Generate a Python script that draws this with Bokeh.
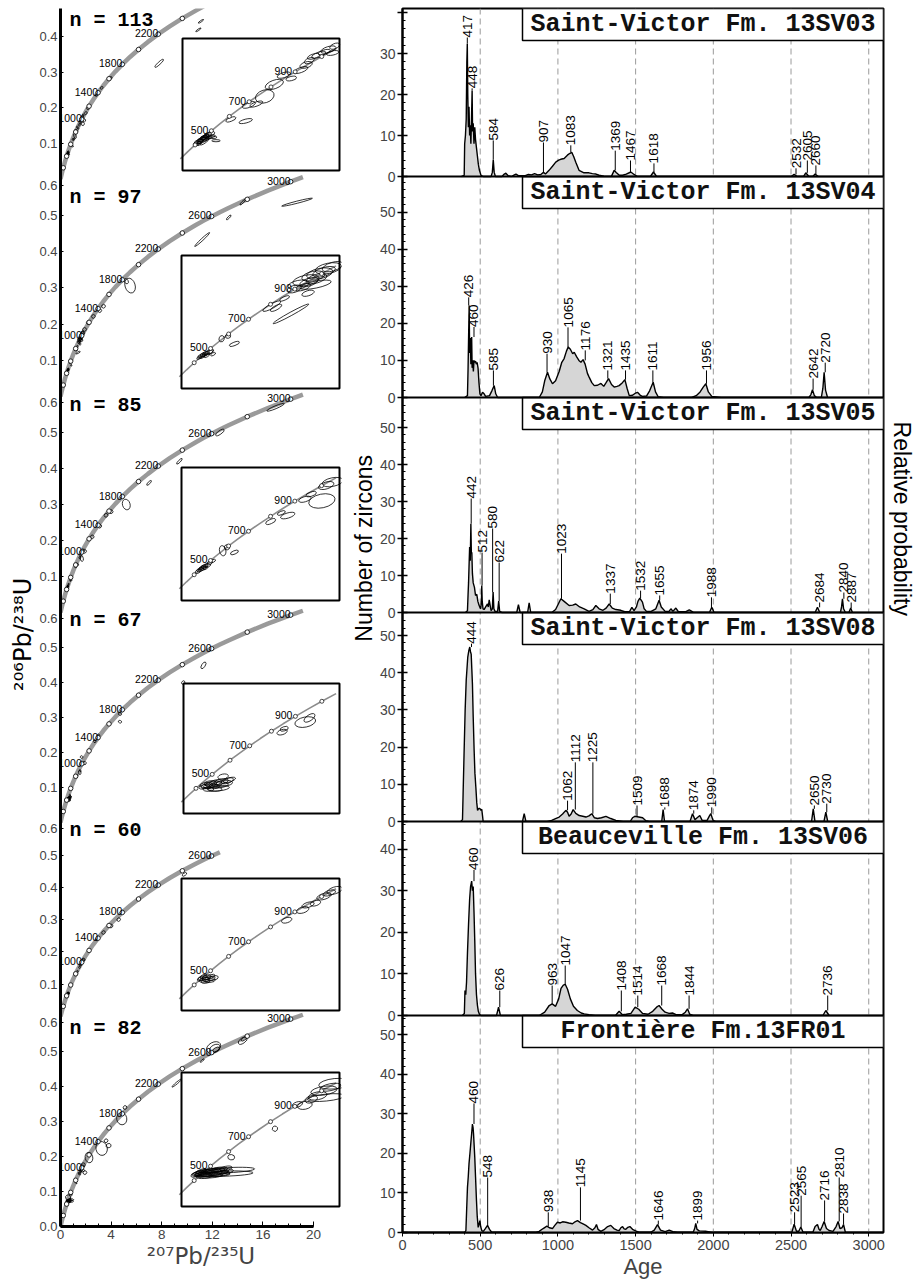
import math
from bokeh.plotting import figure
from bokeh.layouts import row
from bokeh.models import Range1d, FixedTicker, Span
from bokeh.embed import file_html
from bokeh.resources import INLINE
from bokeh.core.properties import value

SANS = "Liberation Sans"
MONO = "Liberation Mono"

# ---------------------------------------------------------------- concordia reference table
conc_age = [0,100,200,300,400,500,600,700,800,900,1000,1100,1200,1300,1400,1500,1600,1700,1800,1900,
            2000,2100,2200,2300,2400,2500,2550,2600,2650,2700,2800,2900,3000,3050]
conc_x = [0,0.10350,0.21770,0.34374,0.48278,0.63628,0.80563,0.99251,1.19873,1.42630,
          1.67741,1.95452,2.26030,2.59774,2.97010,3.38099,3.83441,4.33477,4.88690,5.49618,
          6.16853,6.91046,7.72917,8.63262,9.62958,10.72973,11.32177,11.94370,12.59704,13.28337,
          14.76165,16.39296,18.19309,19.16186]
conc_y = [0,0.015633,0.031511,0.047637,0.064016,0.080650,0.097544,0.114702,0.132128,0.149826,
          0.167806,0.186061,0.204603,0.22343,0.24256,0.26199,0.28172,0.30175,0.32211,0.34277,
          0.36377,0.38509,0.40674,0.42873,0.45107,0.47375,0.48523,0.49679,0.50845,0.52019,
          0.54396,0.56810,0.59261,0.60501]
conc_labels = [1000, 1400, 1800, 2200, 2600, 3000]

ins_age = [300,350,400,450,500,550,600,650,700,750,800,850,900,950,1000,1050]
ins_cx = [0.34374,0.41156,0.48278,0.55766,0.63628,0.71887,0.80563,0.89677,0.99251,1.09308,
          1.19873,1.30971,1.42630,1.54876,1.67741,1.81255]
ins_cy = [0.047637,0.05580,0.064016,0.07230,0.080650,0.08906,0.097544,0.10609,0.114702,0.12338,
          0.132128,0.14094,0.149826,0.15878,0.167806,0.17690]
ins_labels = [500, 700, 900]

# ---------------------------------------------------------------- samples
n_text = ["n = 113", "n = 97", "n = 85", "n = 67", "n = 60", "n = 82"]
titles = ["Saint-Victor Fm. 13SV03", "Saint-Victor Fm. 13SV04", "Saint-Victor Fm. 13SV05",
          "Saint-Victor Fm. 13SV08", "Beauceville Fm. 13SV06", "Frontière Fm.13FR01"]
conc_end = [2550, 3050, 3050, 3050, 2650, 3050]

# ---- probability density curves (age Ma, height)
sv03_age = [380,397,400,405,410,414,417,420,424,428,432,436,440,444,448,451,455,460,465,470,
            476,482,488,495,505,520,570,578,584,590,598,640,655,665,680,700,720,730,745,790,
            810,830,850,870,890,907,920,943,965,986,1005,1018,1040,1061,1075,1089,1102,1115,1136,1168,
            1200,1222,1245,1265,1296,1320,1345,1362,1375,1395,1416,1440,1469,1490,1512,1595,1615,1635,2500,2520,
            2540,2580,2595,2615,2640,2655,2675]
sv03_pdp = [0,0.3,8,10,14,28,32.4,20,12,17,10,12.5,8,14,21,11,13,8,12,9,
            7,5,3,1.5,0.3,0,0,1,4.1,1,0,0,0.6,0.8,0.2,0,0.4,0.6,0.2,0.2,
            0.5,0.4,0.7,0.4,0.5,1.0,0.6,1.5,2.5,3.5,4.0,4.2,4.4,5.2,5.6,5.9,4.8,3.5,1.5,0.9,
            0.9,0.7,0.6,0.3,0.1,0,0.1,1.5,1.0,0.3,0.3,0.6,1.1,0.5,0,0,1.1,0,0,0.5,
            0,0,0.9,0,0,0.6,0]
sv04_age = [400,418,422,426,429,432,436,440,445,448,452,456,460,465,470,475,480,486,492,498,
            505,515,525,535,560,575,590,600,612,880,900,915,933,948,965,985,1008,1025,1040,1055,
            1066,1080,1095,1105,1120,1135,1148,1162,1175,1190,1201,1218,1234,1255,1277,1295,1310,1326,1345,1362,
            1380,1394,1415,1431,1445,1459,1480,1500,1512,1530,1544,1570,1590,1613,1628,1645,1680,1860,1890,1915,
            1935,1952,1968,1990,2050,2615,2628,2638,2650,2665,2695,2705,2713,2722,2735]
sv04_pdp = [0,0.5,8,18,24.8,12,16,9,16.3,8,10,7,10,9.5,9.8,9,9.5,8,4,1,
            0.5,1.4,1.0,0.3,0.5,1.8,3.2,1.0,0,0,1.5,4.5,6.8,5.0,3.7,4.5,7.0,9.5,10.5,12.5,
            13.6,13.0,11.8,12.2,11.0,10.0,9.5,10.2,9.0,6.5,5.5,4.0,3.2,3.3,3.8,3.0,4.0,5.1,3.5,2.8,
            3.0,3.2,4.0,4.8,2.5,0.5,0.6,1.2,1.4,0.6,0.3,0.4,1.8,4.1,1.5,0.2,0,0,0.5,1.5,
            2.8,3.7,1.5,0.3,0,0,0.8,2.1,0.5,0,0,2.5,6.8,2.0,0]
sv05_age = [405,418,422,425,428,432,436,440,443,446,450,455,463,470,478,485,492,498,503,508,
            510,513,518,525,535,547,552,558,564,570,578,583,588,595,612,619,625,640,735,746,
            757,805,815,825,960,985,1005,1019,1040,1072,1095,1115,1140,1169,1200,1225,1244,1265,1290,1310,
            1330,1350,1373,1405,1430,1460,1476,1490,1505,1515,1527,1544,1555,1570,1600,1630,1651,1665,1690,1715,
            1727,1740,1759,1775,1820,1845,1870,1900,1975,1990,2005,2655,2670,2685,2818,2825,2831,2838,2850,2872,
            2884,2895]
sv05_pdp = [0,0.5,5,8,12.3,17.7,14,24,16,16.3,10.5,8,6.8,4.6,4.9,3,2,1.4,1.0,3,
            7.3,3,1.0,0.8,1.5,2.3,1.5,3.4,1.9,0.5,1,5.5,1.0,0.3,0.3,3.1,0.3,0,0,2.1,
            0,0,2.6,0,0,0.8,2.5,3.7,3.0,1.9,2.0,2.3,1.5,1.0,0.3,0.8,1.9,1.0,0.6,1.2,
            2.3,1.2,0.8,0.6,0.2,0.2,1.4,0.5,1.5,3.0,3.9,2.8,1.0,0.3,0.3,1.0,3.3,1.5,0.3,0.3,
            1.0,0.3,1.2,0.2,0.2,0.7,0.1,0,0,1.4,0,0,1.4,0,0,1.5,3.7,1.0,0,0,
            1.2,0]
sv08_age = [375,386,390,396,403,410,420,427,433,438,442,446,450,455,461,466,472,478,483,490,
            498,505,510,515,519,772,783,794,930,960,985,1008,1030,1051,1062,1072,1085,1098,1115,1137,
            1160,1180,1200,1218,1235,1255,1280,1309,1340,1373,1420,1465,1480,1495,1520,1545,1566,1590,1668,1677,
            1686,1850,1866,1882,1896,1913,1928,1960,1975,1984,1998,2015,2632,2643,2654,2712,2724,2736]
sv08_pdp = [0,0.5,7.5,18,29.8,38,44.2,46,46.9,45.5,45,41,37,28,19,13,9.2,5,3,3.5,
            3.5,3.0,3.3,1.5,0,0,2.1,0,0,0.3,0.8,1.2,2.0,3.0,2.5,1.4,2.0,3.2,2.2,1.6,
            1.4,1.2,1.5,2.1,1.0,0.8,1.0,1.4,0.8,0.3,0,0,1.0,1.4,1.2,1.0,0.2,0,0,3.2,
            0,0,2.1,0.5,1.0,1.6,0.3,0.3,1.5,2.1,0.3,0,0,3.4,0,0,2.5,0]
sv06_age = [385,398,402,407,412,418,425,432,438,445,450,455,460,465,470,476,482,488,495,505,
            605,618,630,880,915,944,963,985,1005,1020,1035,1047,1062,1080,1100,1125,1150,1169,1200,1240,
            1370,1394,1415,1440,1470,1497,1520,1545,1580,1610,1635,1651,1670,1690,1715,1737,1760,1800,1820,1834,
            1848,1870,2705,2724,2745]
sv06_pdp = [0,0.5,6,5,8,15,22,28,31,32.3,30,31,25,18,10,5,2.5,1,0.3,0,
            0,2.0,0,0,0.8,2.4,2.8,2.2,4.0,6.5,7.3,7.5,6.3,4.0,2.2,1.2,0.6,0.4,0.2,0,
            0,1.0,0.2,0.3,0.5,2.0,1.5,0.5,0.3,1.0,2.0,2.4,1.5,0.8,0.5,0.6,0.2,0.2,0.8,1.6,
            0.3,0,0,1.2,0]
fr01_age = [400,408,413,418,423,428,434,440,445,450,454,457,461,465,470,476,481,487,492,498,
            503,510,520,533,547,560,575,860,879,905,929,945,965,980,997,1015,1030,1051,1070,1094,
            1110,1126,1145,1165,1180,1200,1223,1238,1248,1258,1276,1300,1320,1340,1360,1380,1394,1405,1416,1426,
            1437,1450,1463,1480,1500,1523,1595,1620,1641,1660,1690,1716,1740,1770,1870,1880,1887,1895,1910,1950,
            1990,2505,2520,2535,2550,2563,2578,2640,2655,2670,2680,2688,2700,2713,2728,2745,2770,2790,2803,2815,
            2828,2838,2850]
fr01_pdp = [0,0.5,6,11.4,14,17.4,20,22.8,25,27.4,26.5,25,22,19,14,8.1,4,1.3,2.0,3.0,
            1.5,0.5,0.3,1.0,1.8,0.8,0,0,0.3,1.0,1.6,1.2,1.0,1.8,2.6,2.4,2.7,2.6,2.4,2.2,
            2.7,3.0,2.5,2.1,1.8,1.2,0.6,1.2,2.0,0.8,0.3,0.8,1.5,1.8,1.0,0.6,0.5,1.2,1.5,0.9,
            0.8,1.3,1.5,0.8,0.4,0,0,0.6,2.0,0.6,0.2,0.6,0.2,0,0,1.0,2.3,0.8,0.4,0.3,
            0,0,2.1,0.3,0.3,1.4,0,0,1.5,2.0,0.8,0.5,1.5,2.8,1.0,0.5,0.3,1.5,2.8,1.0,
            1.2,2.0,0]

# ---- labelled peaks: age, bottom of the label, top of the peak
sv03_peak = [417,448,584,907,1083,1369,1467,1618,2532,2605,2660]
sv03_lab = [33.9,21.5,8.8,8.3,7.6,6.3,3.9,3.2,2.0,3.9,2.7]
sv03_top = [32.4,21,4.1,1.0,5.9,1.5,1.1,1.1,0.5,0.9,0.6]
sv04_peak = [426,460,585,930,1065,1176,1321,1435,1611,1956,2642,2720]
sv04_lab = [27.0,19.0,7.3,11.8,18.9,12.7,7.3,7.3,7.3,7.3,5.1,9.4]
sv04_top = [24.8,16.3,3.2,6.8,13.6,10.0,5.1,4.8,4.1,3.7,2.1,6.8]
sv05_peak = [442,512,580,622,1023,1337,1532,1655,1988,2684,2840,2887]
sv05_lab = [30.8,16.2,22.7,13.5,15.9,5.1,5.9,4.6,4.1,2.7,5.4,2.7]
sv05_top = [24,7.3,5.5,3.1,3.7,2.3,3.9,3.3,1.4,1.4,3.7,1.2]
sv08_peak = [444,1062,1112,1225,1509,1688,1874,1990,2650,2730]
sv08_lab = [47.8,5.6,15.9,15.9,4.3,3.8,3.0,3.8,4.3,4.8]
sv08_top = [46.9,3.0,3.2,2.1,1.4,3.2,2.1,2.1,3.4,2.5]
sv06_peak = [460,626,963,1047,1408,1514,1668,1844,2736]
sv06_lab = [35,6,7.2,12,6,4.8,7.2,4.8,4.8]
sv06_top = [32.3,2.0,2.8,7.5,1.0,2.0,2.4,1.6,1.2]
fr01_peak = [460,548,938,1145,1646,1899,2523,2565,2716,2810,2838]
fr01_lab = [32.6,13.9,5.1,11.4,3.0,3.0,5.1,9.3,8.1,13.9,4.8]
fr01_top = [27.4,1.8,1.5,3.0,2.0,2.3,2.1,1.4,2.8,2.8,2.0]

# ---- error ellipses (207Pb/235U, 206Pb/238U, width, height, angle)
# grains plotted in the inset (and the main diagram)
sv03_ix = [0.50,0.52,0.53,0.545,0.55,0.56,0.565,0.575,0.585,0.59,0.60,0.61,0.625,0.64,0.68,0.52,0.57,
           0.82,0.96,0.99,1.06,1.14,1.23,1.32,1.39,1.48,1.53,1.56,1.60,1.65,1.70,1.74,1.78,1.80]
sv03_iy = [0.066,0.068,0.0675,0.069,0.071,0.0705,0.0725,0.073,0.0745,0.072,0.0755,0.074,0.077,0.073,0.069,0.0655,0.068,
           0.094,0.092,0.111,0.112,0.121,0.135,0.146,0.142,0.152,0.158,0.163,0.168,0.170,0.173,0.176,0.172,0.180]
sv03_iw = [0.07,0.09,0.06,0.10,0.08,0.12,0.07,0.09,0.06,0.11,0.08,0.13,0.09,0.10,0.08,0.05,0.10,
           0.10,0.13,0.13,0.13,0.18,0.18,0.13,0.10,0.14,0.12,0.10,0.12,0.14,0.12,0.15,0.12,0.10]
sv03_ih = [0.004,0.0045,0.0035,0.005,0.0045,0.0045,0.004,0.005,0.004,0.004,0.0045,0.0035,0.005,0.003,0.0025,0.0035,0.004,
           0.0045,0.0045,0.006,0.005,0.015,0.010,0.006,0.005,0.006,0.007,0.006,0.0055,0.006,0.005,0.007,0.005,0.006]
sv03_ia = [0.4,0.3,0.5,0.3,0.4,0.2,0.5,0.3,0.4,0.2,0.4,0.1,0.3,0.0,0.0,0.6,0.6,
           0.35,0.25,0.35,0.35,0.3,0.35,0.3,0.2,0.35,0.3,0.4,0.3,0.35,0.3,0.3,0.2,0.4]
sv04_ix = [0.53,0.55,0.56,0.575,0.58,0.595,0.60,0.62,0.64,0.66,0.74,0.80,0.86,
           1.21,1.25,1.33,1.39,1.42,1.46,1.50,1.53,1.56,1.60,1.63,1.66,1.70,1.74,1.78,1.62,1.55]
sv04_iy = [0.070,0.072,0.0715,0.074,0.073,0.075,0.0725,0.076,0.077,0.074,0.092,0.095,0.086,
           0.130,0.128,0.139,0.121,0.150,0.155,0.152,0.160,0.158,0.165,0.162,0.168,0.170,0.174,0.176,0.155,0.145]
sv04_iw = [0.05,0.07,0.06,0.08,0.05,0.07,0.06,0.08,0.06,0.05,0.06,0.05,0.10,
           0.19,0.12,0.10,0.38,0.14,0.20,0.15,0.25,0.18,0.22,0.20,0.25,0.22,0.25,0.20,0.30,0.12]
sv04_ih = [0.003,0.004,0.0035,0.004,0.003,0.0045,0.0035,0.004,0.0035,0.003,0.006,0.005,0.004,
           0.0055,0.005,0.004,0.004,0.008,0.010,0.007,0.012,0.009,0.011,0.010,0.012,0.010,0.012,0.010,0.008,0.006]
sv04_ia = [0.5,0.4,0.6,0.4,0.5,0.3,0.5,0.4,0.6,0.5,1.2,0.2,0.35,
           0.5,0.5,0.4,0.5,0.3,0.2,0.3,0.2,0.3,0.2,0.3,0.2,0.3,0.2,0.3,0.2,0.3]
sv05_ix = [0.52,0.54,0.55,0.56,0.57,0.58,0.59,0.61,0.63,0.66,0.75,0.79,0.86,
           1.20,1.30,1.36,1.52,1.58,1.68,1.72,1.78]
sv05_iy = [0.068,0.070,0.072,0.071,0.073,0.074,0.072,0.075,0.078,0.080,0.092,0.096,0.090,
           0.126,0.136,0.133,0.152,0.158,0.150,0.168,0.172]
sv05_iw = [0.06,0.07,0.05,0.08,0.06,0.07,0.05,0.06,0.05,0.05,0.06,0.05,0.08,
           0.10,0.08,0.14,0.12,0.10,0.25,0.15,0.20]
sv05_ih = [0.004,0.004,0.0035,0.004,0.0035,0.004,0.003,0.004,0.004,0.003,0.012,0.006,0.004,
           0.005,0.004,0.006,0.006,0.005,0.016,0.008,0.010]
sv05_ia = [0.5,0.4,0.6,0.4,0.5,0.4,0.5,0.4,0.5,0.5,0.2,0.3,0.4,
           0.4,0.4,0.3,0.3,0.3,0.2,0.3,0.2]
sv08_ix = [0.56,0.58,0.60,0.62,0.63,0.65,0.67,0.70,0.72,0.75,0.78,0.60,0.66,0.70,0.74,0.80,
           1.30,1.32,1.52,1.56]
sv08_iy = [0.066,0.068,0.067,0.070,0.066,0.069,0.071,0.068,0.072,0.070,0.073,0.063,0.063,0.064,0.078,0.074,
           0.131,0.135,0.143,0.148]
sv08_iw = [0.10,0.12,0.14,0.12,0.15,0.16,0.12,0.18,0.14,0.16,0.12,0.10,0.14,0.20,0.10,0.12,
           0.10,0.08,0.20,0.12]
sv08_ih = [0.005,0.006,0.006,0.006,0.005,0.007,0.006,0.007,0.006,0.007,0.006,0.005,0.005,0.006,0.006,0.005,
           0.006,0.005,0.012,0.007]
sv08_ia = [0.2,0.1,0.2,0.1,0.0,0.1,0.2,0.1,0.2,0.1,0.3,0.0,0.0,0.1,0.2,0.3,
           0.3,0.3,0.2,0.6]
sv06_ix = [0.54,0.56,0.57,0.58,0.60,0.62,0.64,0.66,0.59,0.63,
           1.35,1.50,1.55,1.62,1.70,1.75,1.80]
sv06_iy = [0.071,0.072,0.074,0.070,0.073,0.071,0.074,0.072,0.068,0.069,
           0.140,0.152,0.158,0.160,0.168,0.172,0.175]
sv06_iw = [0.06,0.08,0.07,0.10,0.09,0.12,0.08,0.10,0.08,0.10,
           0.10,0.12,0.12,0.10,0.14,0.12,0.15]
sv06_ih = [0.004,0.005,0.004,0.005,0.005,0.005,0.004,0.005,0.004,0.004,
           0.006,0.007,0.006,0.006,0.007,0.006,0.008]
sv06_ia = [0.4,0.3,0.4,0.2,0.3,0.2,0.3,0.2,0.1,0.1,
           0.3,0.3,0.3,0.3,0.3,0.3,0.3]
fr01_ix = [0.50,0.53,0.56,0.58,0.60,0.62,0.64,0.66,0.68,0.70,0.72,0.75,0.58,0.63,0.67,0.72,0.78,0.55,0.83,
           0.80,0.76,
           1.24,1.45,1.52,1.58,1.64,1.70,1.76,1.80,1.72]
fr01_iy = [0.071,0.072,0.073,0.071,0.074,0.072,0.075,0.073,0.076,0.074,0.077,0.075,0.069,0.070,0.071,0.072,0.078,0.075,0.091,
           0.076,0.072,
           0.124,0.152,0.151,0.158,0.162,0.168,0.172,0.176,0.160]
fr01_iw = [0.10,0.14,0.18,0.20,0.22,0.25,0.20,0.28,0.18,0.22,0.15,0.20,0.16,0.24,0.30,0.20,0.12,0.10,0.05,
           0.50,0.55,
           0.05,0.10,0.14,0.12,0.18,0.25,0.20,0.30,0.35]
fr01_ih = [0.005,0.005,0.006,0.005,0.006,0.006,0.005,0.006,0.005,0.006,0.005,0.006,0.005,0.006,0.005,0.005,0.005,0.004,0.008,
           0.006,0.006,
           0.006,0.006,0.009,0.008,0.009,0.010,0.008,0.012,0.008]
fr01_ia = [0.3,0.2,0.15,0.1,0.12,0.08,0.1,0.06,0.1,0.08,0.1,0.05,0.1,0.05,0.04,0.08,0.2,0.3,1.4,
           0.05,0.03,
           1.1,0.3,0.2,0.3,0.2,0.15,0.2,0.1,0.1]

# older grains (main diagram only)
sv03_ox = [1.75,1.85,2.0,2.2,2.85,3.25,3.95,7.8,10.9,11.1]
sv03_oy = [0.155,0.165,0.185,0.20,0.236,0.256,0.283,0.325,0.419,0.443]
sv03_ow = [0.25,0.25,0.25,0.3,0.25,0.25,0.3,0.9,0.5,0.5]
sv03_oh = [0.01,0.01,0.007,0.008,0.006,0.006,0.007,0.007,0.004,0.004]
sv03_oa = [1.0,1.0,0.9,0.9,0.8,0.8,0.8,0.75,0.6,0.6]
sv04_ox = [1.9,2.2,2.6,3.1,3.4,5.2,5.5,11.2,13.3,14.4,18.7]
sv04_oy = [0.185,0.204,0.221,0.237,0.249,0.318,0.306,0.433,0.494,0.536,0.536]
sv04_ow = [0.3,0.3,0.3,0.3,0.3,0.3,0.8,1.6,0.5,0.6,2.5]
sv04_oh = [0.01,0.01,0.01,0.01,0.01,0.015,0.042,0.006,0.005,0.005,0.006]
sv04_oa = [0.8,0.8,0.8,0.8,0.8,0.5,0.3,0.75,0.8,0.8,0.25]
sv05_ox = [1.9,2.5,3.1,3.6,4.0,5.2,7.0,9.4,12.6,17.0]
sv05_oy = [0.17,0.21,0.24,0.27,0.28,0.30,0.36,0.42,0.50,0.57]
sv05_ow = [0.3,0.3,0.3,0.3,0.3,0.6,0.5,0.6,0.8,1.5]
sv05_oh = [0.01,0.01,0.01,0.01,0.01,0.03,0.006,0.006,0.01,0.008]
sv05_oa = [0.8,0.8,0.8,0.8,0.8,0.3,0.8,0.8,0.6,0.4]
sv08_ox = [1.67,1.9,2.7,3.0,4.7,4.7,9.7,11.3]
sv08_oy = [0.187,0.17,0.232,0.249,0.31,0.288,0.40,0.449]
sv08_ow = [0.2,0.25,0.2,0.2,0.2,0.2,0.3,0.6]
sv08_oh = [0.008,0.01,0.008,0.008,0.01,0.01,0.008,0.01]
sv08_oa = [1.0,1.0,1.0,1.0,1.2,1.2,0.8,1.0]
sv06_ox = [1.8,2.9,3.4,4.0,4.6,9.8]
sv06_oy = [0.175,0.24,0.26,0.28,0.30,0.44]
sv06_ow = [0.3,0.3,0.3,0.3,0.3,0.4]
sv06_oh = [0.01,0.01,0.01,0.01,0.01,0.008]
sv06_oa = [0.8,0.8,0.8,0.8,0.8,0.6]
fr01_ox = [0.6,1.93,2.25,3.25,3.8,3.6,4.84,5.1,9.2,11.2,12.2,12.3,12.1,14.4,14.5]
fr01_oy = [0.083,0.154,0.197,0.223,0.231,0.245,0.308,0.34,0.41,0.474,0.509,0.505,0.512,0.531,0.536]
fr01_ow = [0.4,0.3,0.6,0.9,0.4,0.3,0.8,0.3,1.0,0.4,0.9,0.6,1.2,0.8,0.5]
fr01_oh = [0.015,0.01,0.03,0.04,0.012,0.01,0.035,0.01,0.005,0.004,0.02,0.012,0.028,0.015,0.008]
fr01_oa = [0.5,0.8,0.2,0.2,0.3,0.8,0.2,0.9,0.7,0.7,0.5,0.5,0.5,0.6,0.6]

pdp = [(sv03_age, sv03_pdp), (sv04_age, sv04_pdp), (sv05_age, sv05_pdp),
       (sv08_age, sv08_pdp), (sv06_age, sv06_pdp), (fr01_age, fr01_pdp)]
peaks = [(sv03_peak, sv03_lab, sv03_top), (sv04_peak, sv04_lab, sv04_top), (sv05_peak, sv05_lab, sv05_top),
         (sv08_peak, sv08_lab, sv08_top), (sv06_peak, sv06_lab, sv06_top), (fr01_peak, fr01_lab, fr01_top)]
inset_grains = [(sv03_ix, sv03_iy, sv03_iw, sv03_ih, sv03_ia), (sv04_ix, sv04_iy, sv04_iw, sv04_ih, sv04_ia),
                (sv05_ix, sv05_iy, sv05_iw, sv05_ih, sv05_ia), (sv08_ix, sv08_iy, sv08_iw, sv08_ih, sv08_ia),
                (sv06_ix, sv06_iy, sv06_iw, sv06_ih, sv06_ia), (fr01_ix, fr01_iy, fr01_iw, fr01_ih, fr01_ia)]
old_grains = [(sv03_ox, sv03_oy, sv03_ow, sv03_oh, sv03_oa), (sv04_ox, sv04_oy, sv04_ow, sv04_oh, sv04_oa),
              (sv05_ox, sv05_oy, sv05_ow, sv05_oh, sv05_oa), (sv08_ox, sv08_oy, sv08_ow, sv08_oh, sv08_oa),
              (sv06_ox, sv06_oy, sv06_ow, sv06_oh, sv06_oa), (fr01_ox, fr01_oy, fr01_ow, fr01_oh, fr01_oa)]

# ================================================================= layout constants (page pixels)
TOP = 8
ROW_H = 1280
L_FW, L_FH = 281, 1218
L_XS = 12.65
L_ZERO = [1047.5, 830, 614, 404, 210, 0]
L_SCALE = [356, 362.5, 360, 350, 323, 350]
L_TICKMAX = [0.4, 0.6, 0.6, 0.6, 0.6, 0.6]
INSET_PX = [(181, 38, 338, 170), (180, 255, 338, 388), (180, 467, 338, 600),
            (182, 683, 338, 813), (180, 878, 338, 1010), (180, 1072, 338, 1206)]
N_PX_Y = [20, 197, 405, 620, 830, 1028]
INS_XR = (0.364, 1.845)
INS_YR = (0.034, 0.189)
R_FW, R_FH = 481, 1224
R_XMAX = 3095.0
R_BOT = [1056, 835, 620, 411, 217, 0]
R_TOP = [1224, 1056, 835, 620, 411, 217]
R_SCALE = [4.1, 3.71, 3.7, 3.72, 4.16, 3.96]
R_TICKMAX = [40, 50, 50, 50, 40, 50]


def lx(px):
    return (px - 59) / L_XS


def ly(py):
    return 1226 - py


def strip(width):
    f = figure(width=width, height=ROW_H, x_range=Range1d(0, width), y_range=Range1d(0, ROW_H),
               min_border=0, toolbar_location=None, x_axis_location=None, y_axis_location=None,
               outline_line_color=None, output_backend="svg")
    f.grid.visible = False
    return f


# ---- axis-title strips
fy = strip(36)
fy.text([22], [ROW_H - 655], text=["²⁰⁶Pb/²³⁸U"], angle=math.pi / 2, text_align="center",
        text_baseline="middle", text_font=value("DejaVu Sans"), text_font_size="24px", text_color="black")
fm = strip(30)
fm.text([17], [ROW_H - 565], text=["Number of zircons"], angle=math.pi / 2, text_align="center",
        text_baseline="middle", text_font=value(SANS), text_font_size="23px", text_color="black")
fr = strip(26)
fr.text([13], [ROW_H - 534], text=["Relative probability"], angle=-math.pi / 2, text_align="center",
        text_baseline="middle", text_font=value(SANS), text_font_size="23px", text_color="black")

# ================================================================= left figure: concordia
pl = figure(frame_width=L_FW, frame_height=L_FH, x_range=Range1d(0, L_FW / L_XS), y_range=Range1d(0, L_FH),
            min_border_left=23, min_border_right=5, min_border_top=TOP, min_border_bottom=10,
            output_backend="svg", toolbar_location=None, outline_line_color=None)
pl.grid.visible = False
pl.extra_y_ranges = {f"L{i}": Range1d(-L_ZERO[i] / L_SCALE[i], (L_FH - L_ZERO[i]) / L_SCALE[i]) for i in range(6)}

lticks, lover = [], {}
for i in range(6):
    vals = [round(0.1 * k, 1) for k in range(0 if i == 5 else 1, int(round(L_TICKMAX[i] * 10)) + 1)]
    for v in vals:
        pos = L_ZERO[i] + v * L_SCALE[i]
        if abs(v - 0.6) < 1e-9:
            pos -= 6
        pos = round(pos, 2)
        lticks.append(pos)
        lover[pos] = f"{v:.1f}"
yax = pl.yaxis[0]
yax.ticker = FixedTicker(ticks=lticks, minor_ticks=[])
yax.major_label_overrides = lover
yax.axis_line_width = 3
yax.major_tick_in = 3
yax.major_tick_out = 0
yax.minor_tick_line_color = None
yax.major_label_text_font = SANS
yax.major_label_text_font_size = "13px"
yax.major_label_standoff = 3

xax = pl.xaxis[0]
xax.ticker = FixedTicker(ticks=[0, 4, 8, 12, 16, 20], minor_ticks=list(range(0, 21)))
xax.bounds = (0, 20)
xax.axis_line_width = 3
xax.major_tick_in = 5
xax.major_tick_out = 0
xax.minor_tick_in = 3
xax.minor_tick_out = 0
xax.major_label_text_font = SANS
xax.major_label_text_font_size = "13.5px"
xax.major_label_standoff = 3
xax.axis_label = "²⁰⁷Pb/²³⁵U"
xax.axis_label_text_font = "DejaVu Sans"
xax.axis_label_text_font_size = "23px"
xax.axis_label_text_font_style = "normal"
xax.axis_label_standoff = 1

for i in range(6):
    rn = f"L{i}"
    cx = [x for a, x in zip(conc_age, conc_x) if a <= conc_end[i]]
    cy = [y for a, y in zip(conc_age, conc_y) if a <= conc_end[i]]
    pl.line(cx, cy, y_range_name=rn, line_color="#9a9a9a", line_width=4.5)
    mx = [x for a, x in zip(conc_age, conc_x) if a > 0 and a % 200 == 0 and a <= conc_end[i]]
    my = [y for a, y in zip(conc_age, conc_y) if a > 0 and a % 200 == 0 and a <= conc_end[i]]
    tx = [x for a, x in zip(conc_age, conc_x) if a in conc_labels and a <= conc_end[i]]
    ty = [y for a, y in zip(conc_age, conc_y) if a in conc_labels and a <= conc_end[i]]
    tt = [str(a) for a in conc_age if a in conc_labels and a <= conc_end[i]]
    gx, gy, gw, gh, ga = inset_grains[i]
    ox, oy, ow, oh, oa = old_grains[i]
    pl.ellipse(gx, gy, width=gw, height=gh, angle=ga, y_range_name=rn,
               fill_color=None, line_color="black", line_width=0.8)
    pl.ellipse(ox, oy, width=ow, height=oh, angle=oa, y_range_name=rn,
               fill_color=None, line_color="black", line_width=0.8)
    pl.scatter(mx, my, y_range_name=rn, size=4.5, fill_color="white", line_color="black", line_width=0.8)
    pl.text(tx, ty, text=tt, y_range_name=rn, text_align="right", text_baseline="bottom",
            x_offset=0, y_offset=3, text_font=value(SANS), text_font_size="10.5px", text_color="black")
    pl.text([lx(68)], [ly(N_PX_Y[i])], text=[n_text[i]], text_baseline="middle", text_align="left",
            text_font=value(MONO), text_font_style="bold", text_font_size="20px", text_color="black")

    # inset: zoom on the 300-1050 Ma part of the concordia
    bx0, by0, bx1, by1 = INSET_PX[i]
    pl.quad(left=lx(bx0), right=lx(bx1), top=ly(by0), bottom=ly(by1), fill_color="white", line_color=None)
    sub = pl.subplot(x_source=Range1d(*INS_XR), y_source=Range1d(*INS_YR),
                     x_target=Range1d(lx(bx0), lx(bx1)), y_target=Range1d(ly(by1), ly(by0)))
    sub.line(ins_cx, ins_cy, line_color="#8c8c8c", line_width=1.6)
    sel = [k for k in range(len(gx)) if INS_XR[0] <= gx[k] <= INS_XR[1] and INS_YR[0] <= gy[k] <= INS_YR[1]]
    sub.ellipse([gx[k] for k in sel], [gy[k] for k in sel], width=[gw[k] for k in sel],
                height=[gh[k] for k in sel], angle=[ga[k] for k in sel],
                fill_color=None, line_color="black", line_width=0.8)
    imx = [x for a, x in zip(ins_age, ins_cx) if 400 <= a <= 1000 and a % 100 == 0]
    imy = [y for a, y in zip(ins_age, ins_cy) if 400 <= a <= 1000 and a % 100 == 0]
    sub.scatter(imx, imy, size=4, fill_color="white", line_color="black", line_width=0.7)
    ilx = [x for a, x in zip(ins_age, ins_cx) if a in ins_labels]
    ily = [y for a, y in zip(ins_age, ins_cy) if a in ins_labels]
    sub.text(ilx, ily, text=[str(a) for a in ins_age if a in ins_labels], text_align="right",
             text_baseline="bottom", x_offset=-3, y_offset=3, text_font=value(SANS),
             text_font_size="10.5px", text_color="black")
    pl.quad(left=lx(bx0), right=lx(bx1), top=ly(by0), bottom=ly(by1),
            fill_color=None, line_color="black", line_width=2)

# ================================================================= right figure: age spectra
pr = figure(frame_width=R_FW, frame_height=R_FH, x_range=Range1d(0, R_XMAX), y_range=Range1d(0, R_FH),
            min_border_left=25, min_border_right=5, min_border_top=TOP, min_border_bottom=10,
            output_backend="svg", toolbar_location=None)
pr.grid.visible = False
pr.outline_line_color = "black"
pr.outline_line_width = 2
pr.extra_y_ranges = {f"R{i}": Range1d(-R_BOT[i] / R_SCALE[i], (R_FH - R_BOT[i]) / R_SCALE[i]) for i in range(6)}

rticks, rminor, rover = [], [], {}
for i in range(6):
    for v in range(0, R_TICKMAX[i] + 1, 10):
        pos = round(R_BOT[i] + v * R_SCALE[i], 2)
        rticks.append(pos)
        rover[pos] = "" if (i == 0 and v == 40) else str(v)
    v = 0
    while R_BOT[i] + v * R_SCALE[i] < R_TOP[i] - 1:
        rminor.append(round(R_BOT[i] + v * R_SCALE[i], 2))
        v += 2
ryax = pr.yaxis[0]
ryax.ticker = FixedTicker(ticks=rticks, minor_ticks=rminor)
ryax.major_label_overrides = rover
ryax.axis_line_width = 2
ryax.major_tick_in = 5
ryax.major_tick_out = 5
ryax.minor_tick_in = 3
ryax.minor_tick_out = 0
ryax.major_tick_line_width = 1.5
ryax.major_label_text_font = SANS
ryax.major_label_text_font_size = "14px"
ryax.major_label_standoff = 2

rxax = pr.xaxis[0]
rxax.ticker = FixedTicker(ticks=list(range(0, 3001, 500)), minor_ticks=list(range(0, 3001, 100)))
rxax.axis_line_width = 2
rxax.major_tick_in = 0
rxax.major_tick_out = 4
rxax.minor_tick_in = 0
rxax.minor_tick_out = 2
rxax.major_label_text_font = SANS
rxax.major_label_text_font_size = "14.5px"
rxax.major_label_standoff = 3
rxax.axis_label = "Age"
rxax.axis_label_text_font = SANS
rxax.axis_label_text_font_size = "22px"
rxax.axis_label_text_font_style = "normal"
rxax.axis_label_standoff = 1

for a in range(500, 3001, 500):
    pr.add_layout(Span(location=a, dimension="height", line_color="#9a9a9a", line_width=1,
                       line_dash="6 4", level="underlay"))

RXS = R_FW / R_XMAX
title_left = (520 - 400) / RXS
for i in range(6):
    rn = f"R{i}"
    ages, hs = pdp[i]
    pr.varea(x=ages, y1=0, y2=hs, y_range_name=rn, fill_color="#d6d6d6")
    pr.line(ages, hs, y_range_name=rn, line_color="black", line_width=1.4)
    pk, lb, tp = peaks[i]
    pr.segment(x0=pk, y0=tp, x1=pk, y1=lb, y_range_name=rn, line_color="black", line_width=1)
    pr.text(pk, lb, text=[str(a) for a in pk], y_range_name=rn, angle=math.pi / 2,
            text_align="left", text_baseline="middle",
            text_font=value(SANS), text_font_size="13.5px", text_color="black")
    if R_BOT[i] > 0:
        pr.add_layout(Span(location=R_BOT[i], dimension="width", line_color="black", line_width=2))
    pr.quad(left=title_left, right=R_XMAX, top=R_TOP[i], bottom=R_TOP[i] - 32,
            fill_color="white", line_color="black", line_width=1.5)
    pr.text([(title_left + R_XMAX) / 2], [R_TOP[i] - 16], text=[titles[i]], text_align="center",
            text_baseline="middle", text_font=value(MONO), text_font_style="bold",
            text_font_size="25px", text_color="#111111")

layout = row(fy, pl, fm, pr, fr)
open("out.html", "w").write(file_html(layout, INLINE))
